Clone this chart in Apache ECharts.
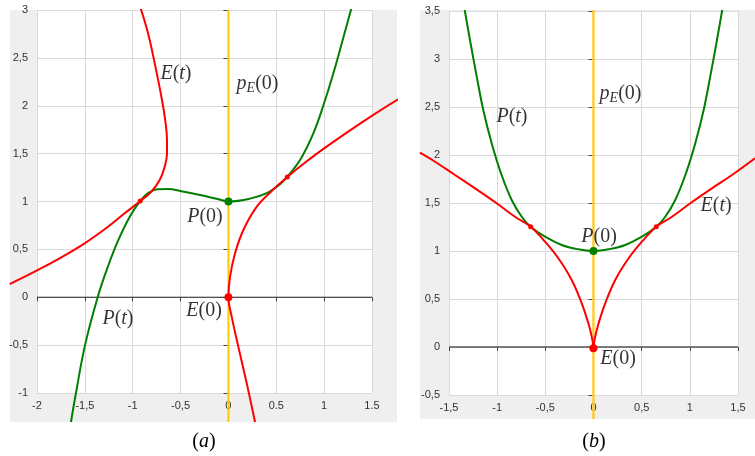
<!DOCTYPE html>
<html>
<head>
<meta charset="utf-8">
<script src="https://cdn.jsdelivr.net/npm/echarts@6/dist/echarts.min.js"></script>
<style>html,body{margin:0;padding:0;background:#fff;}#c{width:755px;height:456px;}</style>
</head>
<body>
<div id="c"></div>
<script>
// ---------- tick labels ----------
const xTicksA = ['-2','-1,5','-1','-0,5','0','0.5','1','1.5'];
const yTicksA = ['-1','-0,5','0','0,5','1','1,5','2','2,5','3'];
const xTicksB = ['-1,5','-1','-0,5','0','0,5','1','1,5'];
const yTicksB = ['-0,5','0','0,5','1','1,5','2','2,5','3','3,5'];

// ---------- panel (a) curves ----------
const pAX = [-1.645,-1.593,-1.498,-1.366,-1.258,-1.154,-1.031,-0.921,-0.840,-0.736,-0.631,-0.492,-0.297,-0.122,0,0.225,0.400,0.539,0.615,0.748,0.887,0.999,1.096,1.184,1.288];
const pAY = [-1.303,-1.0,-0.5,0,0.324,0.589,0.841,1.006,1.087,1.128,1.130,1.107,1.068,1.028,1.0,1.030,1.088,1.180,1.259,1.433,1.712,2.026,2.339,2.652,3.03];
const eA1X = [-0.921,-0.840,-0.770,-0.694,-0.656,-0.642,-0.642,-0.666,-0.718,-0.806,-0.921,-1.084,-1.258,-1.502,-1.746,-2.024,-2.285];
const eA1Y = [3.03,2.757,2.443,2.06,1.817,1.642,1.503,1.364,1.224,1.102,1.005,0.877,0.737,0.563,0.417,0.267,0.138];
const eA2X = [0.278,0.191,0.103,0.034,0,0.017,0.069,0.156,0.296,0.452,0.615,0.818,1.0,1.236,1.514,1.772];
const eA2Y = [-1.303,-0.899,-0.516,-0.203,0,0.215,0.459,0.702,0.946,1.11,1.256,1.42,1.555,1.72,1.905,2.067];
const dotsSmallA = [[-0.921,1.005],[0.615,1.256]];
const dotPA = [[0,1]];
const dotEA = [[0,0]];
const axisLineAX = [-2,1.5];
const vertLineAY = [-1.303,3.0];

// ---------- panel (b) curves ----------
const pBX = [-1.337,-1.282,-1.212,-1.144,-1.057,-0.960,-0.849,-0.745,-0.652,-0.503,-0.330,-0.157,0,0.157,0.330,0.503,0.652,0.745,0.849,0.960,1.057,1.144,1.212,1.282,1.337];
const pBY = [3.51,3.198,2.816,2.469,2.122,1.809,1.531,1.357,1.253,1.149,1.063,1.018,1.0,1.018,1.063,1.149,1.253,1.357,1.531,1.809,2.122,2.469,2.816,3.198,3.51];
const eBLX = [-1.801,-1.645,-1.438,-1.230,-1.005,-0.815,-0.652,-0.503,-0.365,-0.226,-0.122,-0.053,-0.018,0];
const eBLY = [2.024,1.930,1.792,1.653,1.497,1.357,1.253,1.097,0.924,0.698,0.455,0.247,0.108,0];
const eBRX = [0,0.018,0.053,0.122,0.226,0.365,0.503,0.652,0.815,1.005,1.230,1.438,1.677];
const eBRY = [0,0.108,0.247,0.455,0.698,0.924,1.097,1.253,1.357,1.497,1.653,1.792,1.966];
const dotsSmallB = [[-0.652,1.253],[0.652,1.253]];
const dotPB = [[0,1]];
const dotEB = [[0,-0.012]];
const axisLineBX = [-1.5,1.5];
const vertLineBY = [-0.75,3.51];

// ---------- annotations ----------
const annA = [[-0.548,2.332],[0.304,2.227],[-0.245,0.838],[-0.255,-0.144],[-1.154,-0.227]];
const annAText = ['{i|E}{r|(}{i|t}{r|)}','{i|p}{s|E}{r|(0)}','{i|P}{r|(0)}','{i|E}{r|(0)}','{i|P}{r|(}{i|t}{r|)}'];
const annB = [[-0.846,2.396],[0.281,2.635],[0.058,1.146],[0.255,-0.125],[1.273,1.469]];
const annBText = ['{i|P}{r|(}{i|t}{r|)}','{i|p}{s|E}{r|(0)}','{i|P}{r|(0)}','{i|E}{r|(0)}','{i|E}{r|(}{i|t}{r|)}'];

const pairs = (xs, ys) => xs.map((x, i) => [x, ys[i]]);
const SERIF = 'Liberation Serif';
const rich = {
  i: {fontFamily: SERIF, fontStyle: 'italic', fontSize: 20, color: '#000'},
  r: {fontFamily: SERIF, fontSize: 20, color: '#000'},
  s: {fontFamily: SERIF, fontStyle: 'italic', fontSize: 14, color: '#000', padding: [9, 0, 0, 0]}
};

function innerX(grid, min, max, labels) {
  return {type: 'value', gridIndex: grid, min: min, max: max, interval: 0.5, z: 1,
    axisLine: {show: false},
    axisTick: {show: true, length: 4, lineStyle: {color: '#444'}},
    axisLabel: {margin: 7, fontSize: 11, color: '#333', fontFamily: 'Liberation Sans',
      showMinLabel: true, showMaxLabel: true,
      formatter: v => labels[Math.round((v - min) / 0.5)]},
    splitLine: {show: true, lineStyle: {color: '#d9d9d9', width: 1}}};
}
function innerY(grid, min, max, labels) {
  return {type: 'value', gridIndex: grid, min: min, max: max, interval: 0.5, z: 1,
    axisLine: {show: false},
    axisTick: {show: true, length: 5, lineStyle: {color: '#444'}},
    axisLabel: {margin: 9, fontSize: 11, color: '#333', fontFamily: 'Liberation Sans',
      showMinLabel: true, showMaxLabel: true,
      formatter: v => labels[Math.round((v - min) / 0.5)]},
    splitLine: {show: true, lineStyle: {color: '#d9d9d9', width: 1}}};
}
function outer(grid, min, max) {
  return {type: 'value', gridIndex: grid, min: min, max: max, show: false, splitLine: {show: false}};
}
function curve(ax, data, color, width, z) {
  return {type: 'line', xAxisIndex: ax, yAxisIndex: ax, data: data, smooth: 0.4, symbol: 'none',
    showSymbol: false, clip: true, silent: true, z: z || 3,
    lineStyle: {color: color, width: width || 2}};
}
function dots(ax, data, color, size) {
  return {type: 'scatter', xAxisIndex: ax, yAxisIndex: ax, data: data, symbolSize: size, silent: true, z: 6,
    itemStyle: {color: color, opacity: 1}};
}
function ann(ax, data, texts) {
  return {type: 'scatter', xAxisIndex: ax, yAxisIndex: ax, data: data, symbolSize: 0, silent: true, z: 7,
    label: {show: true, position: 'inside', formatter: p => texts[p.dataIndex], rich: rich}};
}

const chart = echarts.init(document.getElementById('c'), null, {renderer: 'canvas'});
chart.setOption({
  animation: false,
  backgroundColor: '#fff',
  grid: [
    {left: 10, top: 10, width: 387, height: 412, show: true, backgroundColor: '#efefef', borderWidth: 0, z: 0},
    {left: 37, top: 10, width: 335, height: 383, show: true, backgroundColor: '#fff', borderWidth: 0, z: 1},
    {left: 420, top: 10, width: 335, height: 409, show: true, backgroundColor: '#efefef', borderWidth: 0, z: 0},
    {left: 449, top: 11, width: 289, height: 384, show: true, backgroundColor: '#fff', borderWidth: 0, z: 1}
  ],
  xAxis: [
    outer(0, -2.282, 1.761),
    innerX(1, -2, 1.5, xTicksA),
    outer(2, -1.801, 1.677),
    innerX(3, -1.5, 1.5, xTicksB)
  ],
  yAxis: [
    outer(0, -1.303, 3.0),
    innerY(1, -1, 3, yTicksA),
    outer(2, -0.75, 3.5104),
    innerY(3, -0.5, 3.5, yTicksB)
  ],
  series: [
    // panel (a)
    curve(0, axisLineAX.map(x => [x, 0]), '#222', 1.2, 2),
    curve(0, vertLineAY.map(y => [0, y]), '#ffc800', 2, 2),
    curve(0, pairs(pAX, pAY), '#007f00', 2, 3),
    curve(0, pairs(eA1X, eA1Y), '#ff0000', 2, 4),
    curve(0, pairs(eA2X, eA2Y), '#ff0000', 2, 4),
    dots(0, dotsSmallA, '#ff0000', 5),
    dots(0, dotPA, '#008000', 8),
    dots(0, dotEA, '#ff0000', 8),
    ann(0, annA, annAText),
    // panel (b)
    curve(2, axisLineBX.map(x => [x, 0]), '#555', 1.5, 2),
    curve(2, vertLineBY.map(y => [0, y]), '#ffcc33', 2.5, 2),
    curve(2, pairs(pBX, pBY), '#007f00', 2, 3),
    curve(2, pairs(eBLX, eBLY), '#ff0000', 2, 4),
    curve(2, pairs(eBRX, eBRY), '#ff0000', 2, 4),
    dots(2, dotsSmallB, '#ff0000', 5),
    dots(2, dotPB, '#008000', 8),
    dots(2, dotEB, '#ff0000', 8),
    ann(2, annB, annBText)
  ],
  graphic: [
    {type: 'text', x: 204, y: 442, z: 10, style: {text: '{r|(}{i|a}{r|)}', rich: rich, align: 'center', verticalAlign: 'middle'}},
    {type: 'text', x: 594, y: 442, z: 10, style: {text: '{r|(}{i|b}{r|)}', rich: rich, align: 'center', verticalAlign: 'middle'}}
  ]
});
</script>
</body>
</html>
